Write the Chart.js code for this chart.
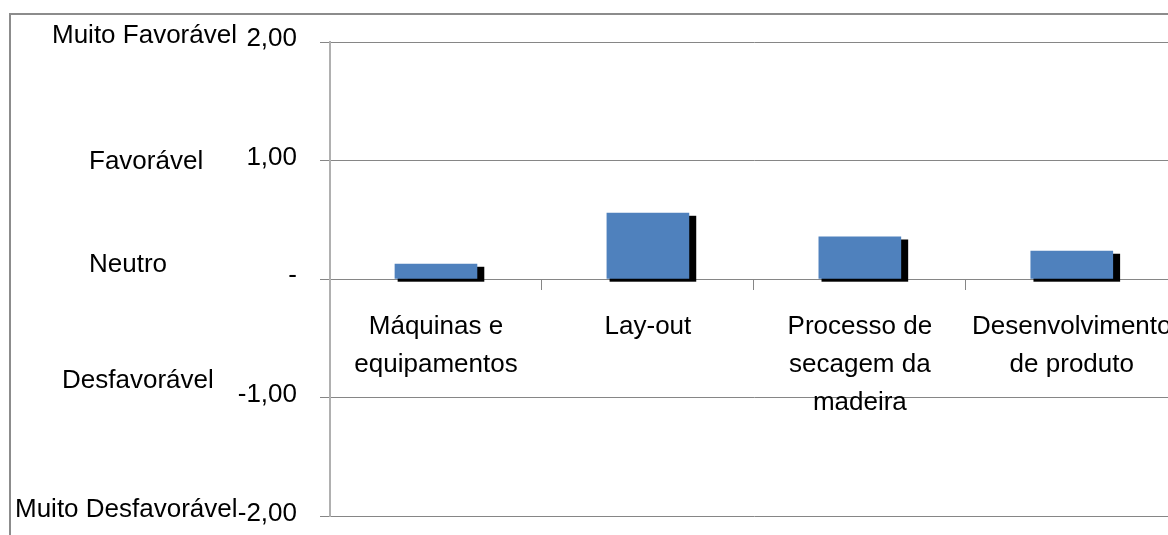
<!DOCTYPE html>
<html lang="pt">
<head>
<meta charset="utf-8">
<script src="https://cdn.jsdelivr.net/npm/chart.js@4.4.1/dist/chart.umd.min.js"></script>
<style>
  html, body { margin: 0; padding: 0; background: #fff; overflow: hidden; }
  #wrap { position: absolute; left: 0; top: 0; width: 1192px; height: 555px; }
</style>
</head>
<body>
<div id="wrap"><canvas id="grafico" width="1192" height="555"></canvas></div>
<script>
// Categorias avaliadas (rótulos em várias linhas)
const categorias = [
  ['Máquinas e', 'equipamentos'],
  ['Lay-out'],
  ['Processo de', 'secagem da', 'madeira'],
  ['Desenvolvimento', 'de produto']
];
// Média das avaliações por categoria
const medias = [0.13, 0.56, 0.36, 0.24];

// Escala de avaliação
const escalaValores = [2, 1, 0, -1, -2];
const escalaRotulos = ['2,00', '1,00', '-', '-1,00', '-2,00'];
const escalaConceitos = ['Muito Favorável', 'Favorável', 'Neutro', 'Desfavorável', 'Muito Desfavorável'];

const FONTE = '"Liberation Sans", Arial, sans-serif';

// Posição (x à esquerda, deslocamento vertical da linha-base) de cada conceito
const conceitoX = [52, 89, 89, 62, 15];
const conceitoDy = [1, 8, -7, -10, 1];

// Moldura externa da área do gráfico
const moldura = {
  id: 'moldura',
  beforeDraw(chart) {
    const ctx = chart.ctx;
    ctx.save();
    ctx.strokeStyle = '#8c8c8c';
    ctx.lineWidth = 2;
    ctx.strokeRect(10, 14, 2000, 2000);
    ctx.restore();
  }
};

// Sombra preta deslocada atrás de cada barra
const sombra = {
  id: 'sombra',
  beforeDatasetsDraw(chart) {
    const ctx = chart.ctx;
    const meta = chart.getDatasetMeta(0);
    ctx.save();
    ctx.fillStyle = '#000';
    meta.data.forEach(bar => {
      const p = bar.getProps(['x', 'y', 'base', 'width'], true);
      const l = p.x - p.width / 2;
      const r = p.x + p.width / 2;
      ctx.fillRect(l + 3, p.y + 3, (r + 7) - (l + 3), p.base - p.y);
    });
    ctx.restore();
  }
};

// Conceitos qualitativos à esquerda da escala numérica
const conceitos = {
  id: 'conceitos',
  afterDraw(chart) {
    const ctx = chart.ctx;
    const y = chart.scales.y;
    ctx.save();
    ctx.fillStyle = '#000';
    ctx.font = '26px ' + FONTE;
    ctx.textAlign = 'left';
    ctx.textBaseline = 'alphabetic';
    escalaConceitos.forEach((txt, i) => {
      ctx.fillText(txt, conceitoX[i], y.getPixelForValue(escalaValores[i]) + conceitoDy[i]);
    });
    ctx.restore();
  }
};

new Chart(document.getElementById('grafico'), {
  type: 'bar',
  data: {
    labels: categorias,
    datasets: [{
      data: medias,
      backgroundColor: '#4f81bd',
      borderWidth: 0,
      barPercentage: 0.39,
      categoryPercentage: 1
    }]
  },
  options: {
    responsive: false,
    animation: false,
    devicePixelRatio: 1,
    layout: { padding: { left: 0, top: 42, right: 12, bottom: 19 } },
    plugins: { legend: { display: false }, tooltip: { enabled: false }, title: { display: false } },
    scales: {
      x: {
        position: { y: 0 },
        grid: { display: true, drawOnChartArea: false, drawTicks: true, tickLength: 10, color: '#868686', lineWidth: 1 },
        border: { display: true, color: '#868686', width: 1 },
        ticks: {
          color: '#000',
          padding: 19,
          maxRotation: 0,
          autoSkip: false,
          font: { family: FONTE, size: 26, lineHeight: '38px' }
        }
      },
      y: {
        min: -2,
        max: 2,
        afterFit(scale) { scale.width = 330; },
        afterBuildTicks(scale) { scale.ticks = escalaValores.map(v => ({ value: v })); },
        grid: { color: '#868686', lineWidth: 1, drawTicks: true, tickLength: 10 },
        border: { display: true, color: '#b0b0b0', width: 2 },
        ticks: {
          color: '#000',
          padding: 23,
          labelOffset: -3,
          font: { family: FONTE, size: 26 },
          callback(v) {
            const i = escalaValores.indexOf(v);
            return i >= 0 ? escalaRotulos[i] : '';
          }
        }
      }
    }
  },
  plugins: [moldura, sombra, conceitos]
});
</script>
</body>
</html>
